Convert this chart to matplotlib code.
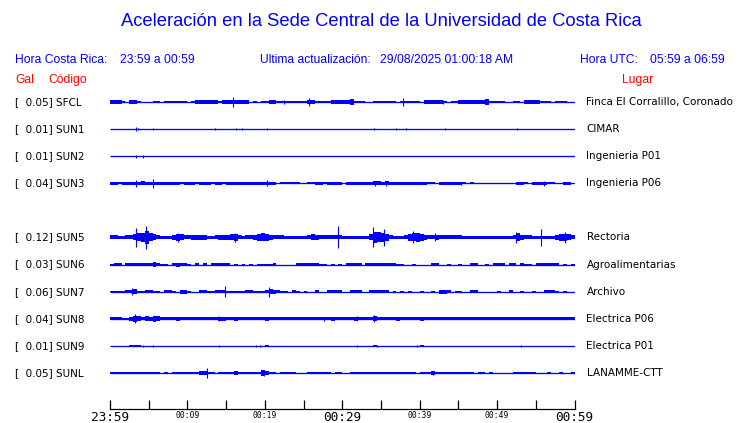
import numpy as np
import matplotlib
matplotlib.use("Agg")
import matplotlib.pyplot as plt
from matplotlib import transforms

# ---------------- data ----------------
codes = ["SFCL", "SUN1", "SUN2", "SUN3", "SUN5", "SUN6", "SUN7", "SUN8", "SUN9", "SUNL"]
gal = [0.05, 0.01, 0.01, 0.04, 0.12, 0.03, 0.06, 0.04, 0.01, 0.05]
places = ["Finca El Corralillo, Coronado", "CIMAR", "Ingenieria P01", "Ingenieria P06",
          "Rectoria", "Agroalimentarias", "Archivo", "Electrica P06", "Electrica P01",
          "LANAMME-CTT"]
slots = [0, 1, 2, 3, 5, 6, 7, 8, 9, 10]   # SUN4 slot is empty

# envelope half-amplitude per 30 s bin (base-36 digits, relative units), 120 bins = 60 min
env_sfcl = ("5554055300" "0330344443" "0457666645" "6666660304" "4554444334" "4654444555"
            "5684330034" "4344044444" "0555553044" "5555567843" "3400340565" "5443033300")
env_sun1 = "0" * 120
env_sun2 = "0" * 120
env_sun3 = ("4434444564" "4555544434" "4434443443" "4444455555" "5442333330" "2334434444"
            "0444444566" "5655555554" "4433044444" "4303000000" "0020055304" "4453300442")
env_sun5 = ("6655669cek" "c965558a96" "6778755688" "89a65667bc" "b866655555" "5698666666"
            "55555559gf" "da65556acd" "a866866666" "6544444444" "44446c8665" "555558ab96")
env_sun6 = ("3450444444" "5742204644" "3040404445" "5030302033" "3250000044" "4444320302"
            "0554404444" "4444330030" "0004400300" "2004400304" "4404404230" "4444440303")
env_sun7 = ("2223448334" "4330443066" "2005533455" "3222255222" "5764330530" "2004005555"
            "0055500555" "5502020200" "2002066503" "3005500000" "2004003002" "0055530200")
env_sun8 = ("5552269857" "6985555655" "5555555566" "5565555555" "6555555555" "5555555655"
            "5556555575" "5555655555" "6555555555" "5555555555" "5554444454" "4444555555")
env_sun9 = ("0000034300" "0000000000" "0000000000" "0000000000" "4000000000" "0000000000"
            "0000000040" "0000000000" "4000000000" "0000000000" "0000000000" "0000000000")
env_sunl = ("4444244443" "3220204444" "4445543044" "3354444438" "5440224400" "0322444044"
            "0034444234" "3434444440" "2246433222" "3332023020" "0000344433" "0002003003")
envelopes = [env_sfcl, env_sun1, env_sun2, env_sun3, env_sun5,
             env_sun6, env_sun7, env_sun8, env_sun9, env_sunl]

# isolated spikes: minute after 23:59 and half-amplitude (same relative units)
spk_t = [
    [15.9, 22.45, 25.68, 37.85, 43.0],
    [3.31, 3.66, 5.59, 13.55, 16.34, 17.08, 20.22, 34.11, 36.99, 38.28, 43.23, 52.6],
    [3.31, 4.30],
    [3.31, 5.59, 20.22, 34.19, 35.7, 45.29, 56.04],
    [3.35, 4.69, 8.82, 16.13, 29.46, 33.98, 35.4, 39.14, 41.94, 52.47, 55.7, 58.71],
    [],
    [2.88, 14.84, 20.56],
    [3.23, 14.1, 27.66, 31.9, 34.1],
    [4.3, 5.59, 14.1, 18.9, 19.35, 31.9, 34.5, 39.66, 53.1],
    [12.47, 19.87, 41.72],
]
spk_a = [
    [15, 6, 13, 12, 7],
    [5, 3, 4, 3, 4, 3, 4, 3, 3, 3, 4, 3],
    [4, 4],
    [10, 13, 9, 7, 8, 5, 7],
    [28, 34, 14, 14, 33, 30, 26, 18, 12, 16, 25, 16],
    [],
    [10, 17, 15],
    [13, 7, 6, 8, 10],
    [4, 2, 4, 3, 2, 4, 2, 3, 4],
    [16, 8, 6],
]

tick_minutes = list(range(0, 61, 5))
tick_labels = ["23:59", "", "00:09", "", "00:19", "", "00:29", "", "00:39", "", "00:49", "", "00:59"]
big_labels = {"23:59", "00:29", "00:59"}

title = "Aceleración en la Sede Central de la Universidad de Costa Rica"
updated = "29/08/2025 01:00:18 AM"

# ---------------- figure ----------------
BLUE = "#0000ff"
RED = "#ff0000"
W, H = 740, 423
fig = plt.figure(figsize=(W / 100, H / 100), dpi=100)
fig.patch.set_facecolor("white")

ax = fig.add_axes([110 / W, 14 / H, 464.5 / W, 321 / H])
ax.set_xlim(0, 60)
ax.set_ylim(11.33, -0.517)
for s in ["top", "left", "right"]:
    ax.spines[s].set_visible(False)
ax.spines["bottom"].set_linewidth(0.9)
ax.set_yticks([])
ax.set_xticks(tick_minutes)
ax.set_xticklabels(tick_labels)
ax.tick_params(axis="x", direction="in", length=6.5, width=0.9, pad=1.5)
for lbl in ax.get_xticklabels():
    lbl.set_family("DejaVu Sans Mono")
    lbl.set_fontsize(9.2 if lbl.get_text() in big_labels else 5.8)

scale = 1.0 / (3 * 27.1)
edges = np.arange(121) * 0.5
for env, y, ts, amps in zip(envelopes, slots, spk_t, spk_a):
    a = np.array([int(c, 36) for c in env], dtype=float) * scale
    a = np.append(a, a[-1])
    ax.hlines(y, 0, 60, color=BLUE, lw=0.95)
    ax.fill_between(edges, y - a, y + a, step="post", color=BLUE, lw=0)
    if ts:
        h = np.array(amps) * scale
        ax.vlines(ts, y - h, y + h, color=BLUE, lw=0.8)

# station labels
ltrans = transforms.offset_copy(transforms.blended_transform_factory(ax.transAxes, ax.transData),
                                fig=fig, x=-95, y=0, units="dots")
rtrans = transforms.offset_copy(transforms.blended_transform_factory(ax.transAxes, ax.transData),
                                fig=fig, x=12, y=0, units="dots")
for c, g, p, y in zip(codes, gal, places, slots):
    ax.text(0, y, f"[  {g:.2f}] {c}", transform=ltrans, ha="left", va="center",
            fontsize=7.5, family="DejaVu Sans", color="black")
    ax.text(1, y, p, transform=rtrans, ha="left", va="center",
            fontsize=7.5, family="DejaVu Sans", color="black")

# header
hf = "Liberation Sans"
fig.text(381 / W, 1 - 22 / H, title, ha="center", va="center", fontsize=13.2, family=hf, color=BLUE)
fig.text(15 / W, 1 - 60 / H, "Hora Costa Rica:", ha="left", va="center", fontsize=8.7, family=hf, color=BLUE)
fig.text(120 / W, 1 - 60 / H, "23:59 a 00:59", ha="left", va="center", fontsize=8.7, family=hf, color=BLUE)
fig.text(260 / W, 1 - 60 / H, "Ultima actualización:", ha="left", va="center", fontsize=8.7, family=hf, color=BLUE)
fig.text(380 / W, 1 - 60 / H, updated, ha="left", va="center", fontsize=8.7, family=hf, color=BLUE)
fig.text(580 / W, 1 - 60 / H, "Hora UTC:", ha="left", va="center", fontsize=8.7, family=hf, color=BLUE)
fig.text(650 / W, 1 - 60 / H, "05:59 a 06:59", ha="left", va="center", fontsize=8.7, family=hf, color=BLUE)
fig.text(15 / W, 1 - 80 / H, "Gal", ha="left", va="center", fontsize=8.7, family=hf, color=RED)
fig.text(48 / W, 1 - 80 / H, "Código", ha="left", va="center", fontsize=8.7, family=hf, color=RED)
fig.text(622 / W, 1 - 80 / H, "Lugar", ha="left", va="center", fontsize=8.7, family=hf, color=RED)

fig.savefig("out.png", dpi=100, facecolor="white")
